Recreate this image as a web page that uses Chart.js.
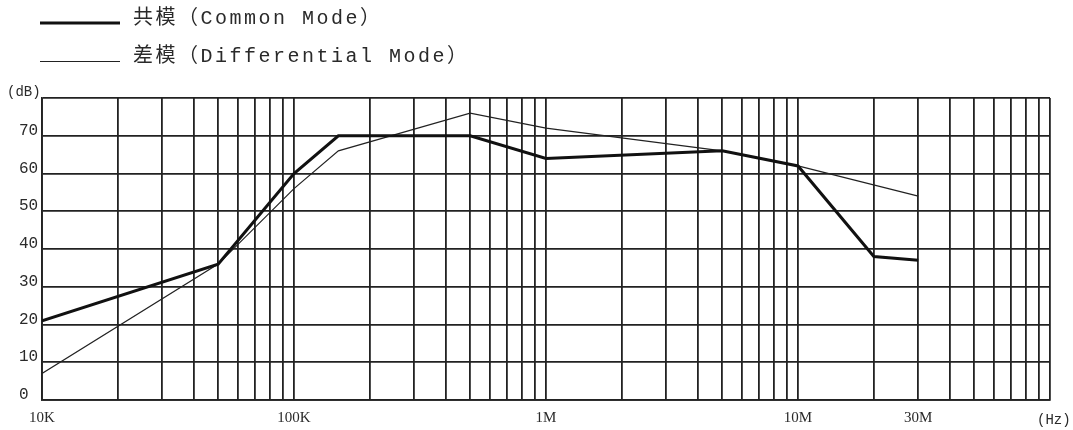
<!DOCTYPE html>
<html>
<head>
<meta charset="utf-8">
<script src="https://cdn.jsdelivr.net/npm/chart.js@4.4.0/dist/chart.umd.min.js"></script>
<style>
html, body { margin: 0; padding: 0; background: #fff; }
#wrap { width: 1073px; height: 430px; }
</style>
</head>
<body>
<div id="wrap"><canvas id="emiChart" width="1073" height="430"></canvas></div>
<script>
// values
var freqCommon = [1e4, 5e4, 1e5, 1.5e5, 5e5, 1e6, 5e6, 1e7, 2e7, 3e7];
var dbCommon = [21, 36, 60, 70, 70, 64, 66, 62, 38, 37];
var freqDiff = [1e4, 5e4, 1e5, 1.5e5, 5e5, 1e6, 5e6, 1e7, 3e7];
var dbDiff = [7, 36, 56, 66, 76, 72, 66, 62, 54];
var seriesNames = ['共模（Common Mode）', '差模（Differential Mode）'];
var xLabelValues = [1e4, 1e5, 1e6, 1e7, 3e7];
var xLabelTexts = ['10K', '100K', '1M', '10M', '30M'];

function toPoints(xs, ys) {
    return xs.map(function(x, i) { return {x: x, y: ys[i]}; });
}

// log grid: 1..9 per decade, 10K .. 100M
var gridValues = [];
for (var d = 1e4; d < 1e8; d *= 10) {
    for (var m = 1; m < 10; m++) gridValues.push(m * d);
}
gridValues.push(1e8);

var gridColor = '#222';
var textColor = '#2a2a2a';

var extras = {
    id: 'extras',
    afterDraw: function(chart) {
        var ctx = chart.ctx;
        ctx.save();
        chart.data.datasets.forEach(function(ds, i) {
            var y = 23 + i * 38;
            var ly = ds.borderWidth < 2 ? y + 0.5 : y;
            ctx.beginPath();
            ctx.strokeStyle = ds.borderColor;
            ctx.lineWidth = ds.borderWidth < 2 ? 1 : ds.borderWidth;
            ctx.moveTo(40, ly);
            ctx.lineTo(120, ly);
            ctx.stroke();
            ctx.font = '20px "Liberation Mono", "Noto Sans CJK SC"';
            ctx.letterSpacing = '2.5px';
            ctx.fillStyle = textColor;
            ctx.textBaseline = 'middle';
            ctx.textAlign = 'left';
            ctx.fillText(ds.label, 133, y - 4);
        });
        ctx.letterSpacing = '0px';
        ctx.font = '14px "Liberation Mono"';
        ctx.fillStyle = textColor;
        ctx.textBaseline = 'middle';
        ctx.fillText('(dB)', 7, 92);
        ctx.fillText('(Hz)', 1037, 420);
        ctx.restore();
    }
};

new Chart(document.getElementById('emiChart').getContext('2d'), {
    type: 'line',
    data: {
        datasets: [{
            label: seriesNames[0],
            data: toPoints(freqCommon, dbCommon),
            borderColor: '#111',
            borderWidth: 3,
            pointRadius: 0,
            tension: 0
        }, {
            label: seriesNames[1],
            data: toPoints(freqDiff, dbDiff),
            borderColor: '#222',
            borderWidth: 1.2,
            pointRadius: 0,
            tension: 0
        }]
    },
    options: {
        responsive: false,
        animation: false,
        layout: { padding: { top: 98, right: 23, left: 19, bottom: 0 } },
        plugins: { legend: { display: false }, tooltip: { enabled: false } },
        scales: {
            x: {
                type: 'logarithmic',
                min: 1e4,
                max: 1e8,
                afterBuildTicks: function(scale) {
                    scale.ticks = gridValues.map(function(v) { return {value: v}; });
                },
                afterFit: function(scale) { scale.height = 30; },
                grid: { color: gridColor, lineWidth: 1.8, drawTicks: false },
                border: { color: gridColor, width: 1.8 },
                ticks: {
                    autoSkip: false,
                    maxRotation: 0,
                    padding: 9,
                    color: textColor,
                    font: { family: '"Liberation Serif"', size: 15 },
                    callback: function(value) {
                        var k = xLabelValues.indexOf(value);
                        return k >= 0 ? xLabelTexts[k] : '';
                    }
                }
            },
            y: {
                min: 0,
                max: 80,
                afterFit: function(scale) { scale.width = 23; },
                grid: { color: gridColor, lineWidth: 1.8, drawTicks: false },
                border: { color: gridColor, width: 1.8 },
                ticks: {
                    stepSize: 10,
                    crossAlign: 'far',
                    labelOffset: -5,
                    color: textColor,
                    font: { family: '"Liberation Mono"', size: 16 },
                    callback: function(value) { return value === 80 ? '' : value; }
                }
            }
        }
    },
    plugins: [extras]
});
</script>
</body>
</html>
